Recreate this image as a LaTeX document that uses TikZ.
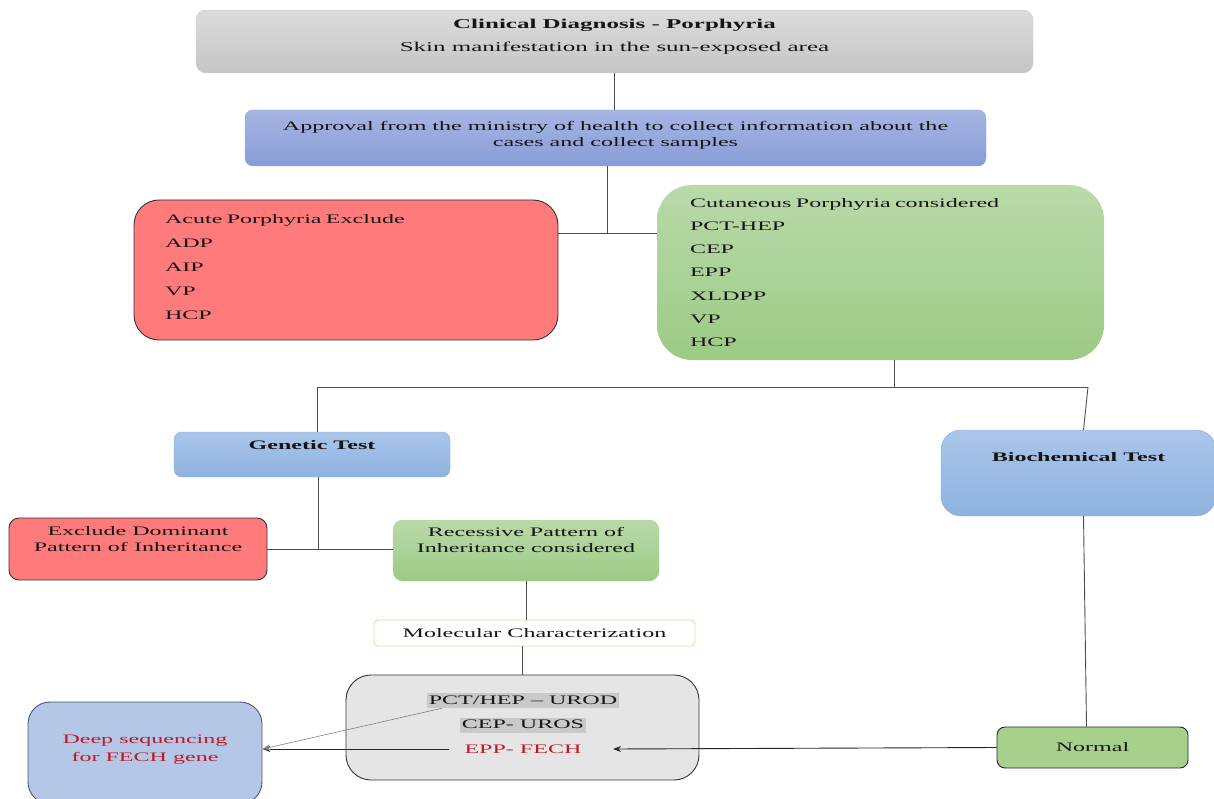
\documentclass[tikz,border=0pt]{standalone}
\usepackage{fontspec}
\setmainfont{Liberation Serif}[FakeStretch=1.85]
\usetikzlibrary{arrows.meta,calc}
\definecolor{textdark}{HTML}{151515}
\definecolor{linegray}{HTML}{4D4D4D}
\definecolor{rossa}{HTML}{FF7B7B}
\definecolor{deepred}{HTML}{BE1828}
\definecolor{hlgray}{HTML}{C9C9C9}
\tikzset{
>=Stealth,
box/.style={rounded corners=8pt,inner sep=0pt},
gray box/.style={box,top color=gray!28,bottom color=gray!45,draw=gray!40},
blue box/.style={box,top color={rgb,255:red,166;green,181;blue,227},bottom color={rgb,255:red,136;green,156;blue,214},draw={rgb,255:red,150;green,168;blue,215}},
light blue box/.style={box,top color={rgb,255:red,170;green,198;blue,234},bottom color={rgb,255:red,142;green,178;blue,224},draw={rgb,255:red,140;green,172;blue,215}},
red box/.style={box,fill=rossa,draw=black!80,line width=0.9pt},
green box/.style={box,top color={rgb,255:red,186;green,217;blue,170},bottom color={rgb,255:red,156;green,203;blue,133},draw={rgb,255:red,165;green,205;blue,145}},
linea/.style={draw=linegray,line width=0.9pt},
freccia/.style={->,draw=black!85,line width=0.9pt,arrows={-Stealth[length=8pt,width=6pt]}},
hl/.style={fill=hlgray,inner sep=1.5pt,text height=9.5pt,text depth=2.5pt}}

\begin{document}
\begin{tikzpicture}[x=1pt,y=-1pt,font=\fontsize{13}{16}\selectfont,text=textdark]

\useasboundingbox (0,0) rectangle (1214,799);
\clip (0,0) rectangle (1214,799);

\node[gray box,rounded corners=10pt,minimum width=837pt,minimum height=63pt,align=center,font=\fontsize{13.5}{23}\selectfont,text depth=13pt] (1) at (614.5,41.5) {\textbf{Clinical Diagnosis - Porphyria}\\Skin manifestation in the sun-exposed area};
\node[blue box,minimum width=741pt,minimum height=56pt,align=center,text depth=9pt] (2) at (615.5,138) {Approval from the ministry of health to collect information about the\\cases and collect samples};
\node[red box,rounded corners=25pt,minimum width=424pt,minimum height=140pt,text width=362pt,align=left,font=\fontsize{13}{24}\selectfont,text depth=103pt] (3) at (346,270) {Acute Porphyria Exclude\\ADP\\AIP\\VP\\HCP};
\node[green box,draw=none,rounded corners=35pt,minimum width=447pt,minimum height=175pt,text width=381pt,align=left,font=\fontsize{13}{23.2}\selectfont] (4) at (880.5,272.5) {Cutaneous Porphyria considered\\PCT-HEP\\CEP\\EPP\\XLDPP\\VP\\HCP};

\node[light blue box,minimum width=276pt,minimum height=45pt,text height=9pt,text depth=19pt,font=\bfseries\fontsize{13}{16}\selectfont] (5) at (312,454.5) {Genetic Test};
\node[light blue box,rounded corners=20pt,minimum width=275pt,minimum height=86pt,text height=9pt,text depth=32pt,font=\bfseries\fontsize{13}{16}\selectfont] (6) at (1078.5,473) {Biochemical Test};

\node[red box,rounded corners=10pt,minimum width=258pt,minimum height=62pt,align=center,text depth=21pt] (7) at (138,549) {Exclude Dominant\\Pattern of Inheritance};
\node[green box,rounded corners=10pt,minimum width=266pt,minimum height=61pt,align=center,text depth=21pt] (8) at (526,550.5) {Recessive Pattern of\\Inheritance considered};
\node[box,rounded corners=4pt,fill=white,draw={rgb,255:red,238;green,211;blue,178},line width=0.9pt,minimum width=321pt,minimum height=26pt] (9) at (534.5,633) {Molecular Characterization};

\node[box,rounded corners=25pt,fill=gray!20,draw=black!80,line width=0.9pt,minimum width=353pt,minimum height=105pt] (10) at (522.5,727.5) {};
\node[hl] (11) at (523,700.5) {PCT/HEP – UROD};
\node[hl] (12) at (523,725) {CEP- UROS};
\node[text=deepred] (13) at (523,749) {EPP- FECH};

\node[box,fill={rgb,255:red,166;green,208;blue,140},draw=black!85,line width=0.9pt,minimum width=191pt,minimum height=41pt] (14) at (1092.5,747.5) {Normal};
\node[box,rounded corners=22pt,fill={rgb,255:red,180;green,199;blue,231},draw={rgb,255:red,72;green,88;blue,118},line width=0.9pt,minimum width=234pt,minimum height=102pt,align=center,font=\fontsize{13}{18}\selectfont,text=deepred,text depth=9pt] (15) at (145,753) {Deep sequencing\\for FECH gene};

\coordinate (j1) at (607,233);
\coordinate (b) at (894,387);
\coordinate (bl) at (317,387);
\coordinate (br) at (1088,387);
\coordinate (j2) at (318,549);

\draw[linea] (1.south) -- (1.south |- 2.north);
\draw[linea] (j1 |- 2.south) -- (j1);
\draw[linea] (j1 -| 3.east) -- (j1 -| 4.west);
\draw[linea] (b |- 4.south) -- (b);
\draw[linea] (bl) -- (br);
\draw[linea] (bl) -- (bl |- 5.north);
\draw[linea] (br) -- ($(6.north)+(5,0)$);
\draw[linea] (j2 |- 5.south) -- (j2);
\draw[linea] (j2 -| 7.east) -- (j2 -| 8.west);
\draw[linea] (8.south) -- (8.south |- 9.north);
\draw[linea] (10.north |- 9.south) -- (10.north);
\draw[linea] ($(6.south)+(5,0)$) -- ($(14.north)+(-6,0)$);

\draw[freccia] (14.west) -- ($(13.east)+(28,0)$);
\draw[freccia] ($(13.west)+(-12,0)$) -- (13 -| 15.east);
\draw[freccia,draw=gray,line width=0.6pt] ($(11.south west)+(15,0)$) -- (13 -| 15.east);

\end{tikzpicture}
\end{document}
